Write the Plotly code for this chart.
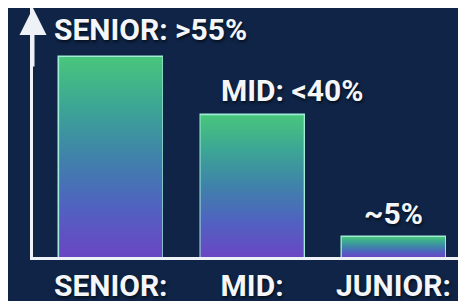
import plotly.graph_objects as go

categories = ["SENIOR:", "MID:", "JUNIOR:"]
values = [55, 39, 5.5]
value_labels = ["SENIOR: >55%", "MID: <40%", "~5%"]
label_xshift = [40, 40, 0]
label_yshift = [8, 5, 4]

BG = "#0f2446"
BAR_W = 0.73
FONT = dict(family="Roboto", size=30, color="#f4f6fa", weight=700,
            shadow="1px 2px 3px rgba(0,0,0,0.6)")

xpos = list(range(len(categories)))
fig = go.Figure()

# gradient fills
for i, v in zip(xpos, values):
    fig.add_trace(go.Scatter(
        x=[i - BAR_W / 2, i + BAR_W / 2, i + BAR_W / 2, i - BAR_W / 2, i - BAR_W / 2],
        y=[0, 0, v, v, 0],
        mode="lines", line=dict(width=0), fill="toself",
        fillgradient=dict(type="vertical",
                          colorscale=[[0, "#6a46c4"], [0.25, "#5062c0"],
                                      [0.5, "#3f82aa"], [0.75, "#3ca595"],
                                      [1, "#48c67c"]]),
        hoverinfo="skip", showlegend=False))

# bar outlines
fig.add_trace(go.Bar(
    x=xpos, y=values, width=BAR_W,
    marker=dict(color="rgba(0,0,0,0)", line=dict(color="#a0ecd6", width=2.5)),
    showlegend=False, hoverinfo="skip"))

for i, v, t, dx, dy in zip(xpos, values, value_labels, label_xshift, label_yshift):
    fig.add_annotation(x=i, y=v, text=t, showarrow=False, xanchor="center",
                       yanchor="bottom", xshift=dx, yshift=dy, font=FONT)

# y axis arrow
fig.add_annotation(x=-0.55, y=68.5, ax=0, ay=60, showarrow=True, text="",
                   arrowhead=2, arrowsize=1.8, arrowwidth=3, arrowcolor="#eef2f7",
                   standoff=0)

# the page body has an 8px margin, so the figure is offset by (8, 8) in the window
fig.update_layout(
    width=466, height=301,
    margin=dict(l=25, r=0, t=0, b=52),
    paper_bgcolor=BG, plot_bgcolor=BG,
    bargap=0,
    xaxis=dict(range=[-0.55, 2.57], tickvals=xpos, ticktext=categories,
               showgrid=False, zeroline=False, showline=True, linecolor="#eef2f7",
               linewidth=3, ticks="", tickfont=FONT, fixedrange=True),
    yaxis=dict(range=[0, 68.5], showgrid=False, zeroline=False, showline=True,
               linecolor="#eef2f7", linewidth=3, showticklabels=False, ticks="",
               fixedrange=True),
)

fig.write_html("out.html", config={"displayModeBar": False})
